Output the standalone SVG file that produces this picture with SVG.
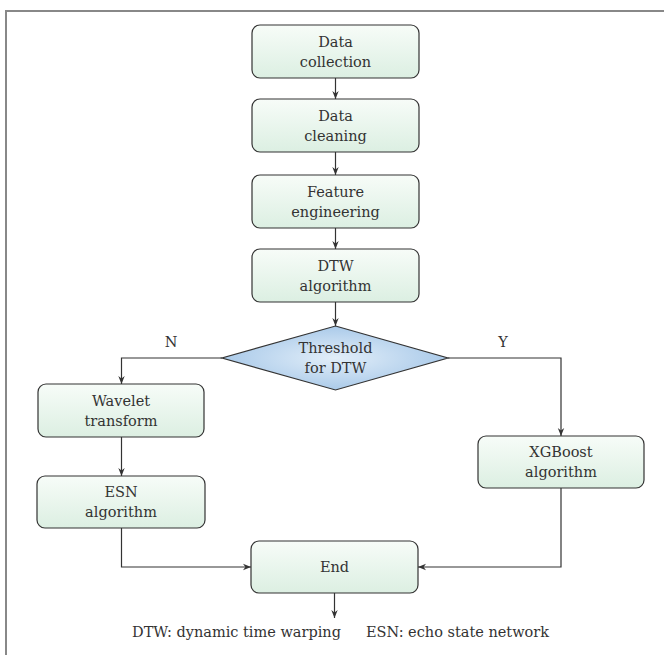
<svg xmlns="http://www.w3.org/2000/svg" width="664" height="655" viewBox="0 0 664 655">
<defs>
<linearGradient id="gBox" x1="0" y1="0" x2="0" y2="1">
<stop offset="0" stop-color="#f7fcf8"/>
<stop offset="1" stop-color="#dcefe2"/>
</linearGradient>
<radialGradient id="gDia" cx="0.5" cy="0.5" r="0.6">
<stop offset="0" stop-color="#e2eef9"/>
<stop offset="1" stop-color="#9fc3e6"/>
</radialGradient>
<marker id="arr" viewBox="0 0 10 10" refX="10" refY="5" markerWidth="8" markerHeight="8" markerUnits="userSpaceOnUse" orient="auto">
<path d="M0,1 L10,5 L0,9 L3,5 Z" fill="#333"/>
</marker>
<style>
.box{fill:url(#gBox);stroke:#333;stroke-width:1.2}
.dia{fill:url(#gDia);stroke:#333;stroke-width:1.2}
.t{font-family:"DejaVu Serif","Liberation Serif",serif;font-size:14.5px;fill:#333;text-anchor:middle}
.c{fill:none;stroke:#333;stroke-width:1.2;marker-end:url(#arr)}
.frame{stroke:#888;stroke-width:2;fill:none}
</style>
</defs>
<path class="frame" d="M6,664 V11 H664"/>
<g id="n1"><rect class="box" x="252" y="25" width="167" height="53" rx="8"/><text class="t" x="335.5" y="47">Data</text><text class="t" x="335.5" y="67">collection</text></g>
<g id="n2"><rect class="box" x="252" y="99" width="167" height="53" rx="8"/><text class="t" x="335.5" y="121">Data</text><text class="t" x="335.5" y="141">cleaning</text></g>
<g id="n3"><rect class="box" x="252" y="175" width="167" height="53" rx="8"/><text class="t" x="335.5" y="197">Feature</text><text class="t" x="335.5" y="217">engineering</text></g>
<g id="n4"><rect class="box" x="252" y="249" width="167" height="53" rx="8"/><text class="t" x="335.5" y="271">DTW</text><text class="t" x="335.5" y="291">algorithm</text></g>
<g id="n5"><polygon class="dia" points="335.5,326 448,358 335.5,390 222,358"/><text class="t" x="335.5" y="353">Threshold</text><text class="t" x="335.5" y="373">for DTW</text></g>
<g id="n6"><rect class="box" x="38" y="384" width="166" height="53" rx="8"/><text class="t" x="121" y="406">Wavelet</text><text class="t" x="121" y="426">transform</text></g>
<g id="n7"><rect class="box" x="37" y="476" width="168" height="52" rx="8"/><text class="t" x="121" y="497">ESN</text><text class="t" x="121" y="517">algorithm</text></g>
<g id="n8"><rect class="box" x="478" y="436" width="166" height="52" rx="8"/><text class="t" x="561" y="457">XGBoost</text><text class="t" x="561" y="477">algorithm</text></g>
<g id="n9"><rect class="box" x="251" y="541" width="167" height="52" rx="8"/><text class="t" x="334.5" y="572">End</text></g>
<g id="connectors">
<path class="c" d="M335.5,78 V99"/>
<path class="c" d="M335.5,152 V175"/>
<path class="c" d="M335.5,228 V249"/>
<path class="c" d="M335.5,302 V326"/>
<path class="c" d="M222,358 H121.5 V384"/>
<path class="c" d="M448,358 H561 V436"/>
<path class="c" d="M121.5,437 V476"/>
<path class="c" d="M121.5,528 V567 H251"/>
<path class="c" d="M561,488 V567 H418"/>
<path class="c" d="M334.5,593 V618"/>
</g>
<g id="labels">
<text class="t" x="171" y="347">N</text>
<text class="t" x="503" y="347">Y</text>
<text class="t" x="236.5" y="637">DTW: dynamic time warping</text>
<text class="t" x="457.5" y="637">ESN: echo state network</text>
</g>
</svg>
